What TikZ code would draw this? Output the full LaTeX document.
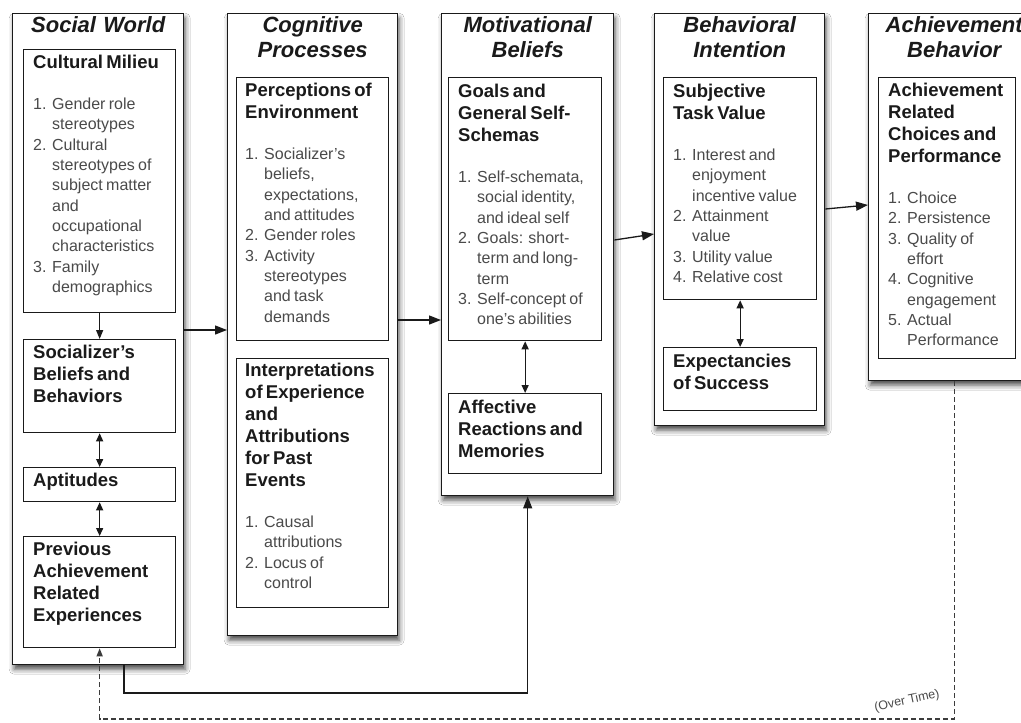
\documentclass[tikz,border=0pt]{standalone}
\usepackage{fontspec}
\setmainfont{Liberation Sans}
\usetikzlibrary{arrows.meta,shadows.blur,calc}
\definecolor{ink}{HTML}{1A1A1A}
\definecolor{listgray}{HTML}{4A4A4A}

% block heading and numbered list inside a box
\newcommand\hdtxt[1]{{\fontsize{18.5}{22}\selectfont\bfseries #1\par}}
\newcommand\lstxt[1]{\vspace{20.7pt}{\fontsize{16}{20.3}\selectfont #1}}
% one numbered item; continuation lines hang under the text
\newcommand\itm[2]{{\let\\\newline\hangindent=19pt\hangafter=1\noindent{\color{listgray}\makebox[19pt][l]{#1}#2}\par}}

\tikzset{
  panel/.style={draw=ink, line width=1.4pt, fill=white, anchor=north west, inner sep=0pt,
    blur shadow={shadow xshift=1.5pt, shadow yshift=-4.5pt, shadow blur radius=5pt, shadow opacity=70}},
  sub/.style={draw=ink, line width=1.3pt, fill=white, anchor=north west, inner sep=0pt},
  ptitle/.style={anchor=north, inner sep=0pt, text width=170pt, align=center,
    font=\fontsize{22}{25}\selectfont\bfseries\itshape, text=ink},
  body/.style={anchor=north west, inner sep=0pt, text width=160pt, align=left, text=ink},
  flow/.style={draw=ink, line width=1.3pt, -{Triangle[length=12pt,width=9pt]}},
  link/.style={draw=ink, line width=1.3pt, {Triangle[length=8pt,width=7pt]}-{Triangle[length=8pt,width=7pt]}},
  down/.style={draw=ink, line width=1.3pt, -{Triangle[length=9pt,width=7pt]}},
  feedback/.style={draw=ink!85, line width=1.3pt, dash pattern=on 5pt off 3pt, -{Triangle[length=8pt,width=6pt]}},
}

\begin{document}
\begin{tikzpicture}[x=1pt, y=-1pt]
\useasboundingbox (0,0) rectangle (1021,723);
\fill[white] (0,0) rectangle (1021,723);
\clip (0,0) rectangle (1021,723);

% ---- panels ----
\node[panel, minimum width=171pt, minimum height=651pt] (sw) at (12,13) {};
\node[panel, minimum width=170pt, minimum height=622pt] (cp) at (227,13) {};
\node[panel, minimum width=172pt, minimum height=482pt] (mb) at (441,13) {};
\node[panel, minimum width=170pt, minimum height=412pt] (bi) at (654,13) {};
\node[panel, minimum width=171pt, minimum height=367pt] (ab) at (868,13) {};

\node[ptitle] (sw-t) at ($(sw.north)+(0,3)$) {Social World};
\node[ptitle] (cp-t) at ($(cp.north)+(0,3)$) {Cognitive\\Processes};
\node[ptitle] (mb-t) at ($(mb.north)+(0,3)$) {Motivational\\Beliefs};
\node[ptitle] (bi-t) at ($(bi.north)+(0,3)$) {Behavioral\\Intention};
\node[ptitle] (ab-t) at ($(ab.north)+(0,3)$) {Achievement\\Behavior};

% ---- Social World ----
\node[sub, minimum width=152pt, minimum height=263pt] (cm) at (23,49) {};
\node[sub, minimum width=152pt, minimum height=93pt]  (sb) at (23,339) {};
\node[sub, minimum width=152pt, minimum height=34pt]  (ap) at (23,467) {};
\node[sub, minimum width=152pt, minimum height=111pt] (pa) at (23,536) {};

\node[body] (cm-x) at ($(cm.north west)+(10,6)$) {\hdtxt{Cultural Milieu}
  \lstxt{\itm{1.}{Gender role\\stereotypes}\itm{2.}{Cultural\\stereotypes of\\subject matter\\and\\occupational\\characteristics}\itm{3.}{Family\\demographics}}};
\node[body] (sb-x) at ($(sb.north west)+(10,6)$) {\hdtxt{Socializer's\\Beliefs and\\Behaviors}};
\node[body] (ap-x) at ($(ap.north west)+(10,6)$) {\hdtxt{Aptitudes}};
\node[body] (pa-x) at ($(pa.north west)+(10,6)$) {\hdtxt{Previous\\Achievement\\Related\\Experiences}};

% ---- Cognitive Processes ----
\node[sub, minimum width=152pt, minimum height=263pt] (pe) at (236,77) {};
\node[sub, minimum width=152pt, minimum height=249pt] (ie) at (236,358) {};

\node[body] (pe-x) at ($(pe.north west)+(9,6)$) {\hdtxt{Perceptions of\\Environment}
  \lstxt{\itm{1.}{Socializer's\\beliefs,\\expectations,\\and attitudes}\itm{2.}{Gender roles}\itm{3.}{Activity\\stereotypes\\and task\\demands}}};
\node[body] (ie-x) at ($(ie.north west)+(9,5)$) {\hdtxt{Interpretations\\of Experience\\and\\Attributions\\for Past\\Events}
  \lstxt{\itm{1.}{Causal\\attributions}\itm{2.}{Locus of\\control}}};

% ---- Motivational Beliefs ----
\node[sub, minimum width=153pt, minimum height=263pt] (gg) at (448,77) {};
\node[sub, minimum width=153pt, minimum height=80pt]  (ar) at (448,393) {};

\node[body] (gg-x) at ($(gg.north west)+(10,7)$) {\hdtxt{Goals and\\General Self-\\Schemas}
  \lstxt{\itm{1.}{Self-schemata,\\social identity,\\and ideal self}\itm{2.}{Goals: short-\\term and long-\\term}\itm{3.}{Self-concept of\\one's abilities}}};
\node[body] (ar-x) at ($(ar.north west)+(10,7)$) {\hdtxt{Affective\\Reactions and\\Memories}};

% ---- Behavioral Intention ----
\node[sub, minimum width=153pt, minimum height=222pt] (st) at (663,77) {};
\node[sub, minimum width=153pt, minimum height=63pt]  (es) at (663,347) {};

\node[body] (st-x) at ($(st.north west)+(10,7)$) {\hdtxt{Subjective\\Task Value}
  \lstxt{\itm{1.}{Interest and\\enjoyment\\incentive value}\itm{2.}{Attainment\\value}\itm{3.}{Utility value}\itm{4.}{Relative cost}}};
\node[body] (es-x) at ($(es.north west)+(10,7)$) {\hdtxt{Expectancies\\of Success}};

% ---- Achievement Behavior ----
\node[sub, minimum width=137pt, minimum height=281pt] (ac) at (878,77) {};
\node[body] (ac-x) at ($(ac.north west)+(10,6)$) {\hdtxt{Achievement\\Related\\Choices and\\Performance}
  \lstxt{\itm{1.}{Choice}\itm{2.}{Persistence}\itm{3.}{Quality of\\effort}\itm{4.}{Cognitive\\engagement}\itm{5.}{Actual\\Performance}}};

% ---- connectors ----
\coordinate (c1) at (0,330);
\coordinate (c2) at (0,320);
\coordinate (c3a) at (0,240);
\coordinate (c3b) at (0,234);
\coordinate (c4a) at (0,209);
\coordinate (c4b) at (0,205);
\coordinate (fb) at (124,693);
\coordinate (db) at (0,719);

\draw[down] (cm) -- (sb);
\draw[link] (sb) -- (ap);
\draw[link] (ap) -- (pa);
\draw[link] (gg) -- (ar);
\draw[link] (st) -- (es);

\draw[flow] (sw.east |- c1) -- (cp.west |- c1);
\draw[flow] (cp.east |- c2) -- (mb.west |- c2);
\draw[flow] (mb.east |- c3a) -- (bi.west |- c3b);
\draw[flow] (bi.east |- c4a) -- (ab.west |- c4b);

\draw[flow] (sw.south -| fb) -- (fb) -- (fb -| mb.south) -- (mb.south);
\draw[feedback] (ab.south) -- (ab.south |- db) -- (db -| pa.south) -- (pa.south);

\node[rotate=12, inner sep=0pt, font=\fontsize{12.5}{14}\selectfont, text=listgray] (ot) at (907,701) {(Over Time)};
\end{tikzpicture}
\end{document}
